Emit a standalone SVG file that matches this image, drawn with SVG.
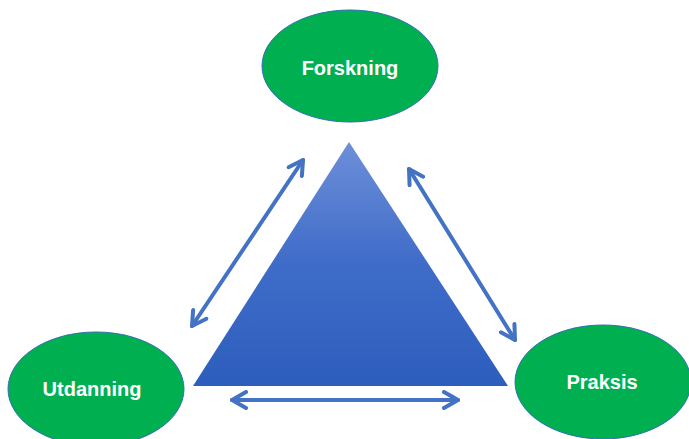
<svg xmlns="http://www.w3.org/2000/svg" width="689" height="439" viewBox="0 0 689 439">
<defs>
<linearGradient id="tri" x1="0" y1="0" x2="0" y2="1">
<stop offset="0" stop-color="#6d8fd8"/>
<stop offset="0.5" stop-color="#3f6cc9"/>
<stop offset="1" stop-color="#2d5ebd"/>
</linearGradient>
<marker id="ah" viewBox="0 0 10 10" refX="8" refY="5" markerWidth="5" markerHeight="5" orient="auto-start-reverse" markerUnits="strokeWidth">
<path d="M1,1 L8,5 L1,9" fill="none" stroke="#4472c4" stroke-width="2" stroke-linecap="round" stroke-linejoin="round"/>
</marker>
</defs>
<style>
.node{fill:#00b050;stroke:#2f6fb5;stroke-width:1}
.lbl{font-family:"Liberation Sans",Arial,sans-serif;font-weight:bold;font-size:20px;fill:#ffffff;text-anchor:middle}
.conn{stroke:#4472c4;stroke-width:4;fill:none;stroke-linecap:round;marker-start:url(#ah);marker-end:url(#ah)}
</style>
<polygon id="triangle" points="349,142 193,386 508,386" fill="url(#tri)"/>
<g id="connectors">
<line class="conn" x1="192" y1="326" x2="303" y2="160"/>
<line class="conn" x1="409" y1="169" x2="515" y2="340"/>
<line class="conn" x1="232" y1="400" x2="458" y2="400"/>
</g>
<g id="forskning">
<ellipse class="node" cx="350" cy="66" rx="88" ry="56"/>
<text class="lbl" x="350" y="75">Forskning</text>
</g>
<g id="utdanning">
<ellipse class="node" cx="96" cy="389" rx="88" ry="57"/>
<text class="lbl" x="92" y="396">Utdanning</text>
</g>
<g id="praksis">
<ellipse class="node" cx="603" cy="382" rx="88" ry="57"/>
<text class="lbl" x="602" y="389">Praksis</text>
</g>
</svg>
